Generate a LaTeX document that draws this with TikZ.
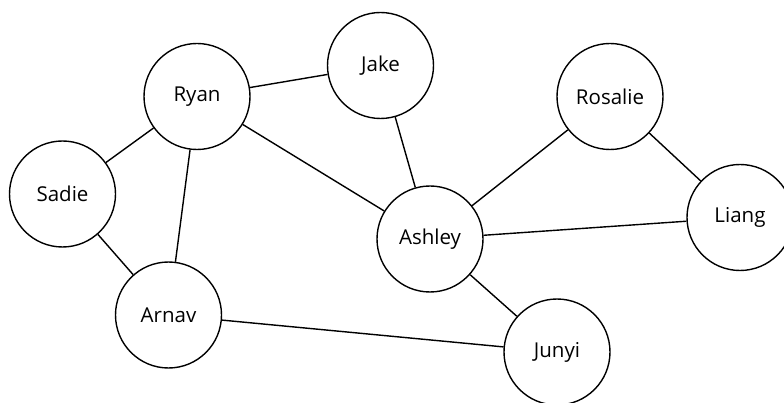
\documentclass[tikz,border=0pt]{standalone}
\usepackage{fontspec}
\setmainfont{Open Sans}
\begin{document}
\begin{tikzpicture}[x=1pt,y=-1pt,
  person/.style={circle,draw,line width=1.4pt,minimum size=106pt,inner sep=0pt,
                 font=\fontsize{20.5}{24}\selectfont,fill=white},
  link/.style={line width=1.4pt}]
  \useasboundingbox (0,0) rectangle (784,403);
  \node[person] (ryan)    at (197,96.5)  {Ryan};
  \node[person] (jake)    at (380.5,65.5) {Jake};
  \node[person] (sadie)   at (62.5,194)  {Sadie};
  \node[person] (arnav)   at (168.5,315) {Arnav};
  \node[person] (ashley)  at (430,239)   {Ashley};
  \node[person] (rosalie) at (610,96.5)  {Rosalie};
  \node[person] (liang)   at (740,217.5) {Liang};
  \node[person] (junyi)   at (557,352)   {Junyi};
  \draw[link] (ryan) -- (jake);
  \draw[link] (ryan) -- (sadie);
  \draw[link] (ryan) -- (arnav);
  \draw[link] (ryan) -- (ashley);
  \draw[link] (sadie) -- (arnav);
  \draw[link] (jake) -- (ashley);
  \draw[link] (ashley) -- (rosalie);
  \draw[link] (ashley) -- (liang);
  \draw[link] (ashley) -- (junyi);
  \draw[link] (rosalie) -- (liang);
  \draw[link] (arnav) -- (junyi);
\end{tikzpicture}
\end{document}
